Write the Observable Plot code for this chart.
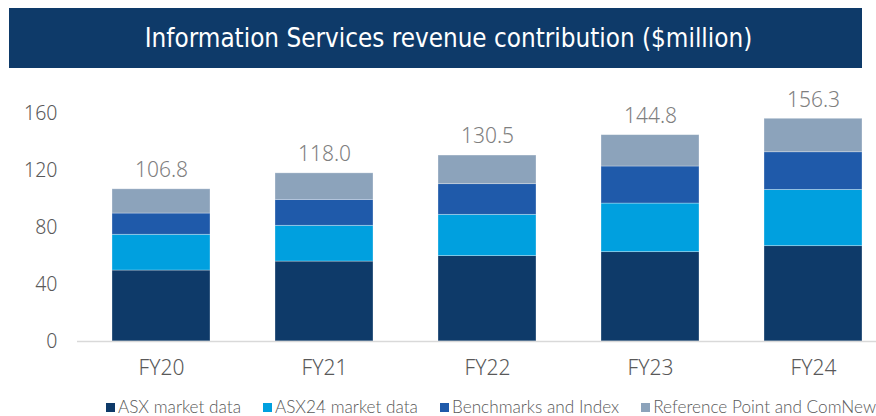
<!DOCTYPE html>
<html>
<head>
<meta charset="utf-8">
<script src="https://cdn.jsdelivr.net/npm/d3@7"></script>
<script src="https://cdn.jsdelivr.net/npm/@observablehq/plot@0.6"></script>
<style>
  html, body { margin: 0; padding: 0; background: #fff; }
  #wrap { position: relative; width: 876px; height: 416px; overflow: hidden; font-family: Lato, "Open Sans", sans-serif; }
  #title { position: absolute; left: 9px; top: 8px; width: 853px; height: 60px; box-sizing: border-box; padding-left: 26px; background: #0e3a69; color: #fff;
    font-family: "DejaVu Sans Condensed", "DejaVu Sans", sans-serif; font-stretch: condensed; font-size: 25.8px;
    display: flex; align-items: center; justify-content: center; z-index: 2; }
  #chart { position: absolute; left: 0; top: 0; }
  #chart svg text { font-weight: 300; }
  #legend { position: absolute; left: 106px; top: 398px; display: flex; gap: 22px; color: #595959; font-size: 17.2px; font-weight: 300; white-space: nowrap; line-height: 18px; }
  #legend .item { display: flex; align-items: center; gap: 3px; }
  #legend .sw { width: 9px; height: 9px; display: inline-block; }
</style>
</head>
<body>
<div id="wrap">
  <div id="title">Information Services revenue contribution ($million)</div>
  <div id="chart"></div>
  <div id="legend"></div>
</div>
<script>
const years = ["FY20", "FY21", "FY22", "FY23", "FY24"];
const series = ["ASX market data", "ASX24 market data", "Benchmarks and Index", "Reference Point and ComNew"];
const asxMarketData   = [49.8, 56.1, 59.9, 62.7, 66.9];
const asx24MarketData = [25.1, 25.1, 29.0, 34.1, 39.5];
const benchmarksIndex = [14.9, 18.2, 21.5, 26.0, 26.4];
const referencePoint  = [17.0, 18.6, 20.1, 22.0, 23.5];
const totals = [106.8, 118.0, 130.5, 144.8, 156.3];
const yTicks = [0, 40, 80, 120, 160];
const colors = ["#0e3a69", "#00a0df", "#1f5aaa", "#8ca3bb"];

const valuesBySeries = [asxMarketData, asx24MarketData, benchmarksIndex, referencePoint];
const rows = [];
series.forEach((s, i) => years.forEach((y, j) => rows.push({year: y, series: s, value: valuesBySeries[i][j]})));
const totalRows = years.map((y, j) => ({year: y, total: totals[j]}));

const chart = Plot.plot({
  width: 876,
  height: 392,
  marginLeft: 77,
  marginRight: 0,
  marginTop: 113,
  marginBottom: 51,
  style: {background: "transparent", overflow: "visible"},
  x: {domain: years, range: [77, 896], paddingInner: 0.4, paddingOuter: 0.2},
  y: {domain: [0, 160]},
  color: {domain: series, range: colors},
  marks: [
    Plot.barY(rows, {x: "year", y: "value", fill: "series", stroke: "#ffffff", strokeOpacity: 0.4, strokeWidth: 0.75}),
    Plot.ruleY([0], {stroke: "#d9d9d9", strokeWidth: 1.5}),
    Plot.text(totalRows, {x: "year", y: "total", text: d => d.total.toFixed(1), dy: -19, fontSize: 21, fill: "#7f7f7f"}),
    Plot.axisY({ticks: yTicks, tickSize: 0, tickPadding: 20, fontSize: 19.5, color: "#595959", label: null}),
    Plot.axisX({tickSize: 0, tickPadding: 19, fontSize: 21, color: "#595959", label: null})
  ]
});
document.getElementById("chart").appendChild(chart);

const legend = document.getElementById("legend");
series.forEach((s, i) => {
  const item = document.createElement("div");
  item.className = "item";
  const sw = document.createElement("span");
  sw.className = "sw";
  sw.style.background = colors[i];
  const t = document.createElement("span");
  t.textContent = s;
  item.appendChild(sw); item.appendChild(t);
  legend.appendChild(item);
});
</script>
</body>
</html>
